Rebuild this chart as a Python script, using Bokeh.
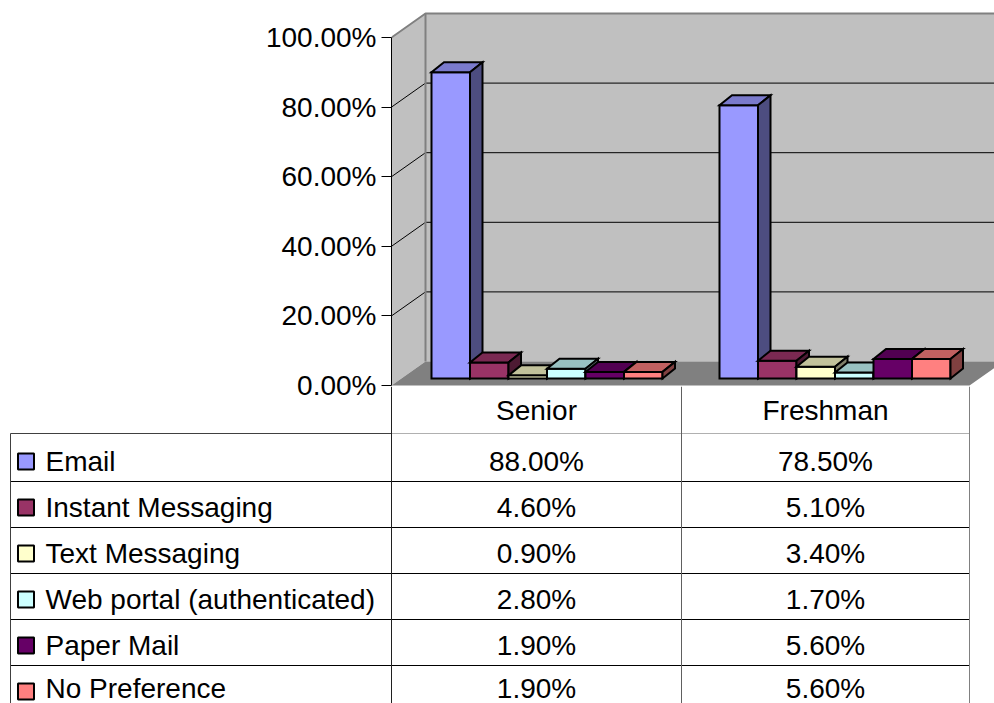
from bokeh.plotting import figure
from bokeh.layouts import column
from bokeh.models import Range1d, FixedTicker, PrintfTickFormatter
from bokeh.core.properties import value
from bokeh.embed import file_html
from bokeh.resources import INLINE

categories = ["Senior", "Freshman"]
series_names = ["Email", "Instant Messaging", "Text Messaging",
                "Web portal (authenticated)", "Paper Mail", "No Preference"]
senior = [88.0, 4.6, 0.9, 2.8, 1.9, 1.9]
freshman = [78.5, 5.1, 3.4, 1.7, 5.6, 5.6]
front_colors = ["#9999ff", "#993366", "#ffffcc", "#ccffff", "#660066", "#ff8080"]
top_colors = ["#7a7acc", "#7a2952", "#c2c29b", "#99c2c2", "#520052", "#c26161"]
side_colors = ["#4d4d80", "#4d1a33", "#80806a", "#6a8080", "#330033", "#804040"]
tick_values = [0, 20, 40, 60, 80, 100]

FONT = "Liberation Sans"
FS = "28px"
X0, XM, XR, XL = 391.0, 681.0, 969.0, 10.0   # table/plot columns (page px)
Y0 = 385.0                                    # 0 % on the front edge
PX = 3.48                                     # pixels per percent
DX, DY = 34.0, 24.0                           # floor depth
BDX, BDY = 12.5, 10.0                         # bar depth
BAR_W = 38.5
GAP0 = 40.0
BASE = 7.0 / PX
OVERLAP = 30                                  # top figure runs under the table


def pct(px):
    return px / PX


top = figure(width=994, height=386 + OVERLAP, output_backend="svg", toolbar_location=None,
             x_range=Range1d(X0, 994), y_range=Range1d(pct(Y0 - 386 - OVERLAP), pct(Y0)),
             x_axis_location=None, min_border_left=391, min_border_right=0,
             min_border_top=0, min_border_bottom=0, outline_line_color=None,
             background_fill_color=None, border_fill_color=None)
top.grid.visible = False

ax = top.yaxis[0]
ax.ticker = FixedTicker(ticks=tick_values)
ax.formatter = PrintfTickFormatter(format="%.2f%%")
ax.bounds = (0, 100)
ax.axis_line_color = "black"
ax.axis_line_width = 1
ax.major_tick_line_color = "black"
ax.major_tick_out = 10
ax.major_tick_in = 0
ax.minor_tick_line_color = None
ax.major_label_standoff = 5
ax.major_label_text_font = FONT
ax.major_label_text_font_size = FS
ax.major_label_text_color = "black"

XEND = 1030.0
dz = pct(DY)
# walls and floor
top.patch([X0, X0 + DX, X0 + DX, X0], [0, dz, 100 + dz, 100],
          fill_color="#c0c0c0", line_color=None)
top.patch([X0 + DX, XEND, XEND, X0 + DX], [dz, dz, 100 + dz, 100 + dz],
          fill_color="#c0c0c0", line_color=None)
top.patch([X0, XR, XR + DX, XEND, XEND, X0 + DX], [0, 0, dz, dz, dz, dz],
          fill_color="#808080", line_color=None)
# grid lines on the walls
for t in tick_values[1:-1]:
    top.line([X0, X0 + DX, XEND], [t, t + dz, t + dz], line_color="black", line_width=1)
# wall edges
top.line([X0, X0 + DX, XEND], [100, 100 + dz, 100 + dz], line_color="#808080", line_width=2)
top.line([X0 + DX, X0 + DX], [dz, 100 + dz], line_color="#808080", line_width=2)

# bars
bdz = pct(BDY)
for g, vals in enumerate([senior, freshman]):
    gx = X0 + GAP0 + g * (XM - X0 - 2)
    for i, v in enumerate(vals):
        l = gx + i * BAR_W
        r = l + BAR_W
        y0 = BASE
        y1 = BASE + v
        kw = dict(line_color="black", line_width=2, line_join="miter")
        top.patch([l, r, r, l], [y0, y0, y1, y1], fill_color=front_colors[i], **kw)
        top.patch([l, r, r + BDX, l + BDX], [y1, y1, y1 + bdz, y1 + bdz],
                  fill_color=top_colors[i], **kw)
        top.patch([r, r + BDX, r + BDX, r], [y0, y0 + bdz, y1 + bdz, y1],
                  fill_color=side_colors[i], **kw)

bot = figure(width=994, height=317, output_backend="svg", toolbar_location=None,
             x_range=Range1d(0, 994), y_range=Range1d(703, 386),
             x_axis_location=None, y_axis_location=None, min_border=0,
             outline_line_color=None, background_fill_color=None, border_fill_color=None)
bot.grid.visible = False

ROW_TOP, ROW_H, CAT_Y, ROW_C = 433.0, 46.0, 410.0, 461.0
row_lines = [481.0 + i * ROW_H for i in range(5)]
bot.segment(x0=[XL] * 5, y0=row_lines, x1=[XR] * 5, y1=row_lines, line_color="black", line_width=1)
bot.segment([XL, X0], [ROW_TOP, ROW_TOP], [X0, XR], [ROW_TOP, ROW_TOP],
            line_color=["#404040", "#b0b0b0"], line_width=1)
bot.segment([X0, XM, XR, XL], [386.0, 386.0, 386.0, ROW_TOP], [X0, XM, XR, XL], [703.0] * 4,
            line_color=["#202020", "#606060", "#808080", "#404040"], line_width=1)

centers = [(X0 + XM) / 2, (XM + XR) / 2]
kw = dict(text_font=value(FONT), text_font_size=value(FS), text_color="black",
          text_baseline="middle")
bot.text(x=centers, y=[CAT_Y] * 2, text=categories, text_align="center", **kw)
row_y = [ROW_C + i * ROW_H for i in range(5)] + [ROW_C + 5 * ROW_H - 3]
bot.text(x=[45.0] * 6, y=row_y, text=series_names, text_align="left", **kw)
bot.text(x=[centers[0]] * 6, y=row_y, text=[f"{v:.2f}%" for v in senior], text_align="center", **kw)
bot.text(x=[centers[1]] * 6, y=row_y, text=[f"{v:.2f}%" for v in freshman], text_align="center", **kw)
bot.rect(x=[25.5] * 6, y=[ROW_C + i * ROW_H for i in range(6)], width=16, height=16,
         fill_color=front_colors, line_color="black", line_width=2)

layout = column(top, column(bot, spacing=0, margin=(-OVERLAP, 0, 0, 0)), spacing=0)
open("out.html", "w").write(file_html(layout, INLINE))
